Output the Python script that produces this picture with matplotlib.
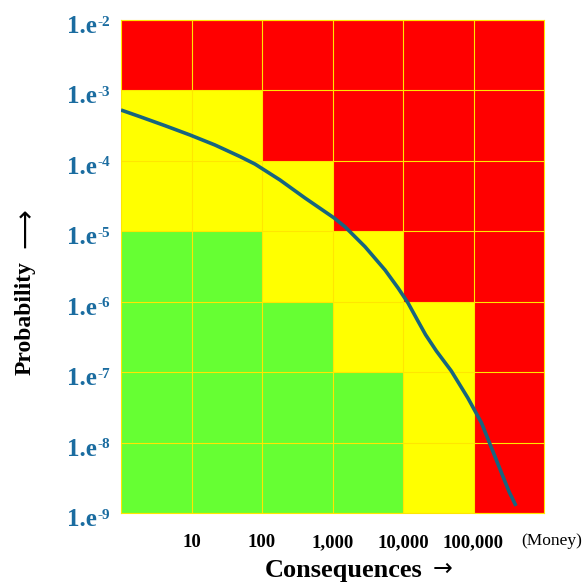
import numpy as np
import matplotlib
matplotlib.use("Agg")
import matplotlib.pyplot as plt
from matplotlib.colors import ListedColormap
from matplotlib.transforms import blended_transform_factory, offset_copy

plt.rcParams['font.family'] = ['Liberation Serif', 'DejaVu Sans']

# risk zones, top row (1e-3..1e-2) first; 0 = green, 1 = yellow, 2 = red
zones = [
    [2, 2, 2, 2, 2, 2],
    [1, 1, 2, 2, 2, 2],
    [1, 1, 1, 2, 2, 2],
    [0, 0, 1, 1, 2, 2],
    [0, 0, 0, 1, 1, 2],
    [0, 0, 0, 0, 1, 2],
    [0, 0, 0, 0, 1, 2],
]
x_edges = [1, 10, 100, 1e3, 1e4, 1e5, 1e6]
y_edges = [1e-9, 1e-8, 1e-7, 1e-6, 1e-5, 1e-4, 1e-3, 1e-2]

x_ticks = [10, 100, 1e3, 1e4, 1e5]
x_labels = ['10', '100', '1,000', '10,000', '100,000']
y_ticks = [1e-9, 1e-8, 1e-7, 1e-6, 1e-5, 1e-4, 1e-3, 1e-2]
y_exps = ['-9', '-8', '-7', '-6', '-5', '-4', '-3', '-2']

# curve
curve_x = [1.0, 1.86, 4.21, 9.53, 21.5, 48.8, 79.6, 180, 407, 1050, 1503,
           2891, 5559, 8500, 11780, 16330, 20900, 29700, 48400, 83200,
           130000, 180000, 250000, 320000, 400900]
curve_p = [5.27e-4, 4.24e-4, 3.16e-4, 2.33e-4, 1.68e-4, 1.15e-4, 9.0e-5,
           5.35e-5, 2.97e-5, 1.55e-5, 1.16e-5, 6.04e-6, 2.82e-6, 1.57e-6,
           9.6e-7, 5.3e-7, 3.4e-7, 2.0e-7, 1.04e-7, 4.3e-8, 1.9e-8,
           8.4e-9, 3.7e-9, 2.0e-9, 1.26e-9]

zone_colors = ListedColormap(['#66ff33', '#ffff00', '#ff0000'])
grid_yellow = '#ffe600'
tick_blue = '#1a6ca0'
line_blue = '#17657f'

W, H = 585, 583
fig = plt.figure(figsize=(W / 100, H / 100), dpi=100)
ax = fig.add_axes([121 / W, 1 - 513 / H, 423 / W, 493 / H])

Z = np.array(zones[::-1])
ax.pcolormesh(x_edges, y_edges, Z, cmap=zone_colors, vmin=0, vmax=2,
              zorder=1)
ax.plot(curve_x, curve_p, color=line_blue, linewidth=2.6,
        solid_joinstyle='round', solid_capstyle='butt', zorder=4)

ax.set_xscale('log')
ax.set_yscale('log')
ax.set_xlim(1, 1e6)
ax.set_ylim(1e-9, 1e-2)
for s in ax.spines.values():
    s.set_color(grid_yellow)
    s.set_linewidth(0.8)
ax.minorticks_off()
ax.set_axisbelow(False)
ax.grid(True, color=grid_yellow, linewidth=0.8, zorder=3)

ax.set_xticks(x_ticks)
ax.set_xticklabels(x_labels, fontsize=13.5, fontweight='bold')
ax.set_yticks(y_ticks)
ax.set_yticklabels([])
ax.tick_params(axis='both', length=0)
ax.tick_params(axis='x', pad=15)

# y labels as "1.e" with a raised exponent
trans = blended_transform_factory(fig.transFigure, ax.transData)
for yt, e in zip(y_ticks, y_exps):
    t1 = offset_copy(trans, fig=fig, x=0, y=-13, units='dots')
    fig.text(97 / W, yt, '1.e', transform=t1, fontsize=18, fontweight='bold',
             color=tick_blue, ha='right', va='baseline')
    t2 = offset_copy(trans, fig=fig, x=0, y=-5.5, units='dots')
    fig.text(97.5 / W, yt, e, transform=t2, fontsize=11, fontweight='bold',
             color=tick_blue, ha='left', va='baseline')

fig.text(521 / W, 1 - 541 / H, '(Money)', fontsize=12.5, ha='left', va='center')

# axis titles, arrows drawn thin as in the original
fig.text(265 / W, 1 - 577 / H, 'Consequences', fontsize=19,
         fontweight='bold', ha='left', va='baseline')
fig.text(433 / W, 1 - 569 / H, '\u2192', family='DejaVu Sans', fontsize=17,
         ha='left', va='center')
fig.text(31 / W, 1 - 375 / H, 'Probability', fontsize=17,
         fontweight='bold', ha='left', va='baseline', rotation=90,
         rotation_mode='anchor')
fig.text(25 / W, 1 - 248 / H, '\u27f6', family='DejaVu Sans', fontsize=20,
         ha='left', va='center', rotation=90, rotation_mode='anchor')

fig.savefig('out.png', dpi=100)
plt.close(fig)
